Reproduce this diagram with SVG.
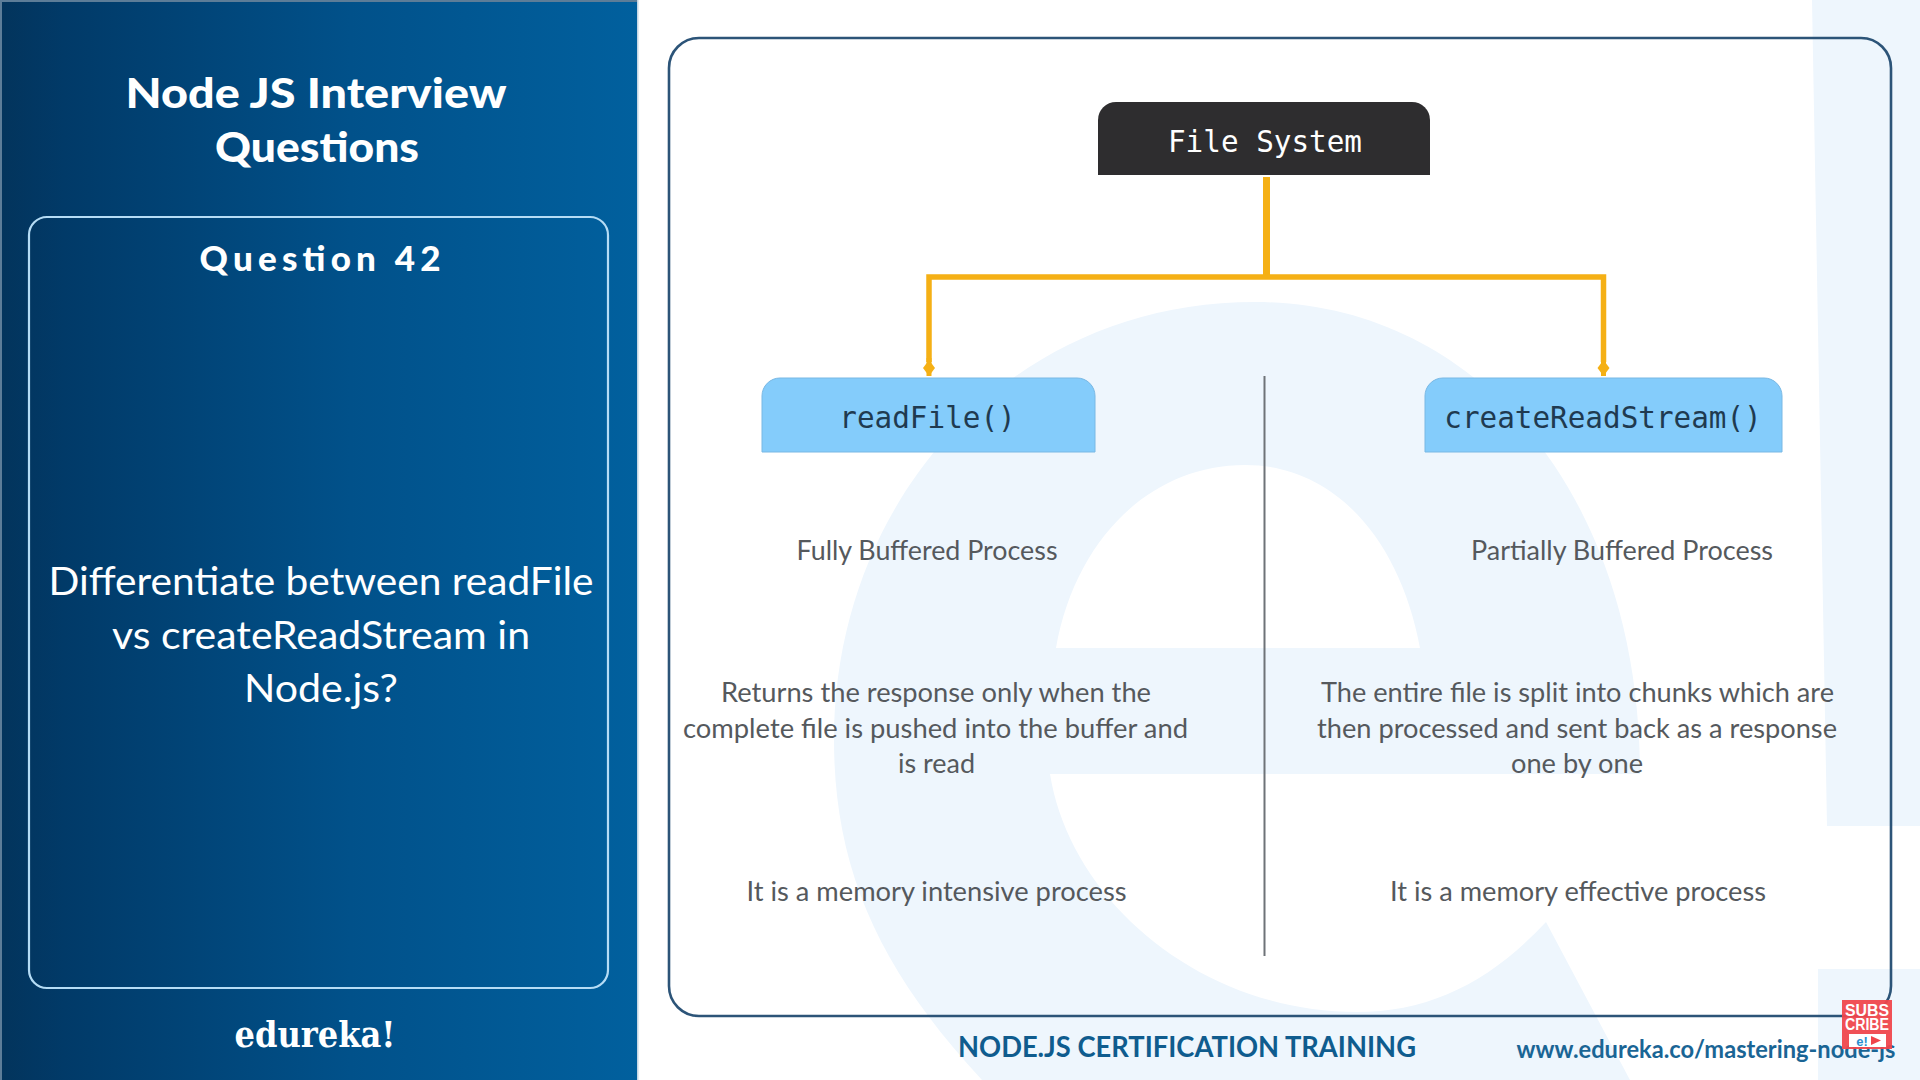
<svg xmlns="http://www.w3.org/2000/svg" width="1920" height="1080" viewBox="0 0 1920 1080">
<defs>
<linearGradient id="panel" x1="0" y1="0" x2="1" y2="0">
<stop offset="0" stop-color="#03345c"/><stop offset="0.1" stop-color="#013a68"/><stop offset="0.55" stop-color="#01518a"/><stop offset="1" stop-color="#01609e"/>
</linearGradient>
<marker id="arrow" markerUnits="userSpaceOnUse" markerWidth="18" markerHeight="14" refX="16" refY="7" orient="auto" viewBox="0 0 18 14">
<path d="M0 7L8 1L16 7L8 13Z" fill="#f5b015"/>
</marker>
<style>
.body{font-family:"Lato","Noto Sans",sans-serif;font-size:26px;fill:#55595d;text-anchor:middle}
.mono{font-family:"DejaVu Sans Mono","Liberation Mono",monospace;font-size:29.300px;text-anchor:middle}
.white{fill:#ffffff}
.side{font-family:"Lato","Noto Sans",sans-serif;text-anchor:middle;fill:#ffffff}
.conn{fill:none;stroke:#f5b015;stroke-linejoin:miter}
.box{stroke:#79b8e4;stroke-width:1}
</style>
</defs>
<rect width="1920" height="1080" fill="#ffffff"/>
<g id="watermark" fill="#eef6fd">
<path fill-rule="evenodd" d="M1640,774C1640,500 1480,302 1255,302C1010,302 834,500 834,740C834,870 880,970 982,1080L1630,1080L1546,922C1490,982 1430,1012 1357,1012C1200,1012 1070,900 1050,774ZM1056,648C1075,540 1150,465 1245,465C1335,465 1400,540 1420,648Z"/>
<path d="M1812,0H1920V826H1827Z"/>
<rect x="1818" y="969" width="102" height="111"/>
</g>
<g id="side-panel">
<rect width="637" height="1080" fill="url(#panel)"/>
<rect x="637" width="1.500" height="1080" fill="#c4d6e4"/>
<rect width="637" height="2" fill="#5d7d98"/>
<rect width="2" height="1080" fill="#5d7d98"/>
<rect x="29" y="217" width="579" height="771" rx="18" fill="none" stroke="#b5dcf5" stroke-width="2.200"/>
<text class="side" x="316" y="108" font-size="41" font-weight="900" textLength="381" lengthAdjust="spacingAndGlyphs">Node JS Interview</text>
<text class="side" x="317" y="162" font-size="41" font-weight="900" textLength="204" lengthAdjust="spacingAndGlyphs">Questions</text>
<text class="side" x="320" y="271" font-size="35" font-weight="900" textLength="241">Question 42</text>
<text class="side" x="321" y="595" font-size="39" textLength="545" lengthAdjust="spacingAndGlyphs">Differentiate between readFile</text>
<text class="side" x="321" y="649" font-size="39" textLength="418" lengthAdjust="spacingAndGlyphs">vs createReadStream in</text>
<text class="side" x="321" y="702" font-size="39" textLength="154" lengthAdjust="spacingAndGlyphs">Node.js?</text>
<text class="side" x="315" y="1047" style="font-family:'DejaVu Serif',serif" font-size="35" font-weight="700" textLength="161" lengthAdjust="spacingAndGlyphs">edureka!</text>
</g>
<rect id="frame" x="669" y="38" width="1222" height="978" rx="30" fill="none" stroke="#2c5478" stroke-width="2.600"/>
<g id="connectors">
<path class="conn" stroke-width="7" d="M1266.500 177V277"/>
<path class="conn" stroke-width="5.500" d="M929 362V277H1603.500V362"/>
<path class="conn" stroke-width="5" d="M929 358V376" marker-end="url(#arrow)"/>
<path class="conn" stroke-width="5" d="M1603.500 358V376" marker-end="url(#arrow)" />
<line x1="1264.500" y1="376" x2="1264.500" y2="956" stroke="#6e7378" stroke-width="2"/>
</g>
<g id="file-system">
<path d="M1098,175V120a18,18 0 0 1 18,-18H1412a18,18 0 0 1 18,18V175Z" fill="#2e2d2f"/>
<text class="mono white" x="1265" y="152">File System</text>
</g>
<g id="read-file">
<path class="box" d="M762,452V396a18,18 0 0 1 18,-18H1077a18,18 0 0 1 18,18V452Z" fill="#84ccfb"/>
<text class="mono" fill="#1f3a50" x="927.500" y="428">readFile()</text>
<text class="body" x="927" y="560" textLength="261" lengthAdjust="spacingAndGlyphs">Fully Buffered Process</text>
<text class="body" x="936" y="702" textLength="430" lengthAdjust="spacingAndGlyphs">Returns the response only when the</text>
<text class="body" x="935.500" y="738" textLength="505" lengthAdjust="spacingAndGlyphs">complete file is pushed into the buffer and</text>
<text class="body" x="936.500" y="773" textLength="77" lengthAdjust="spacingAndGlyphs">is read</text>
<text class="body" x="936.500" y="901" textLength="380" lengthAdjust="spacingAndGlyphs">It is a memory intensive process</text>
</g>
<g id="create-read-stream">
<path class="box" d="M1425,452V396a18,18 0 0 1 18,-18H1764a18,18 0 0 1 18,18V452Z" fill="#84ccfb"/>
<text class="mono" fill="#1f3a50" x="1603" y="428">createReadStream()</text>
<text class="body" x="1622" y="560" textLength="302" lengthAdjust="spacingAndGlyphs">Partially Buffered Process</text>
<text class="body" x="1577.500" y="702" textLength="513" lengthAdjust="spacingAndGlyphs">The entire file is split into chunks which are</text>
<text class="body" x="1577" y="738" textLength="520" lengthAdjust="spacingAndGlyphs">then processed and sent back as a response</text>
<text class="body" x="1577" y="773" textLength="132" lengthAdjust="spacingAndGlyphs">one by one</text>
<text class="body" x="1578" y="901" textLength="376" lengthAdjust="spacingAndGlyphs">It is a memory effective process</text>
</g>
<g id="footer">
<text x="1187" y="1057" font-family="Lato,'Noto Sans',sans-serif" font-size="28" font-weight="700" fill="#0f5c8e" text-anchor="middle" textLength="458" lengthAdjust="spacingAndGlyphs">NODE.JS CERTIFICATION TRAINING</text>
<text x="1706" y="1058" font-family="Lato,'Noto Sans',sans-serif" font-size="25" font-weight="700" fill="#1a6595" text-anchor="middle" textLength="379" lengthAdjust="spacingAndGlyphs">www.edureka.co/mastering-node-js</text>
</g>
<g id="subscribe">
<rect x="1842" y="1000" width="50" height="49" fill="#f0454b" opacity="0.94"/>
<text x="1867" y="1016" font-family="'Liberation Sans',sans-serif" font-size="16" font-weight="700" fill="#ffffff" text-anchor="middle" textLength="44" lengthAdjust="spacingAndGlyphs">SUBS</text>
<text x="1867" y="1030" font-family="'Liberation Sans',sans-serif" font-size="16" font-weight="700" fill="#ffffff" text-anchor="middle" textLength="44" lengthAdjust="spacingAndGlyphs">CRIBE</text>
<rect x="1849" y="1034" width="37" height="13" fill="#ffffff"/>
<text x="1862" y="1046" font-family="'Liberation Sans',sans-serif" font-size="13" font-weight="700" fill="#2a8fd0" text-anchor="middle">e!</text>
<path d="M1871,1036L1881,1040.500L1871,1045Z" fill="#f0454b"/>
</g>
</svg>
